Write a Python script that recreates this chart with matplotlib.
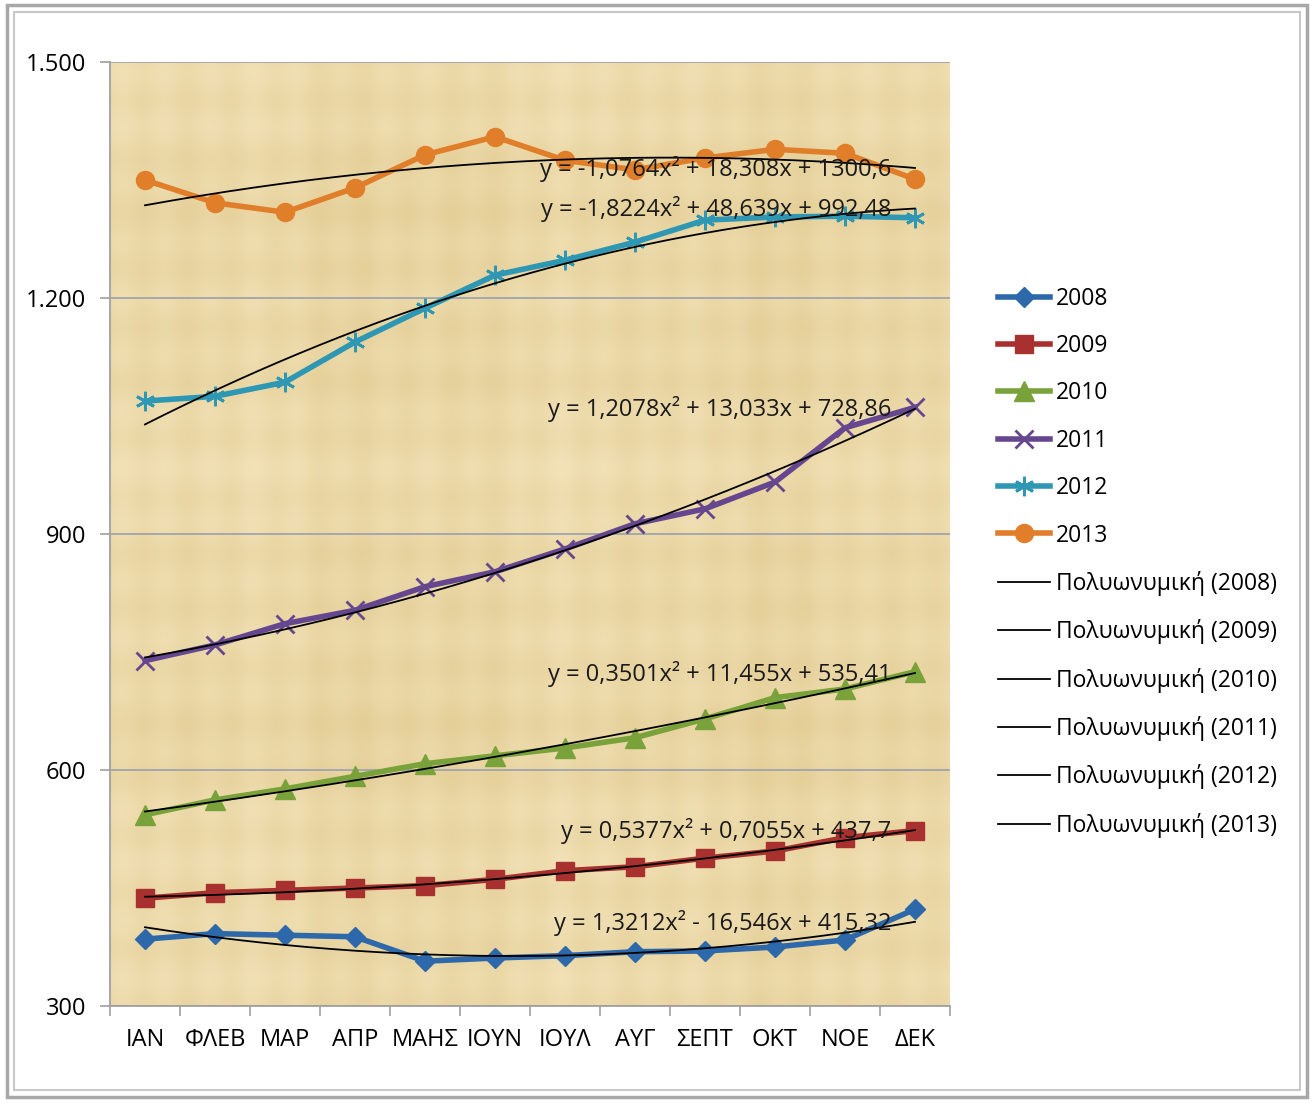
import numpy as np
import matplotlib
matplotlib.use('Agg')
import matplotlib.pyplot as plt
from matplotlib.patches import Rectangle

plt.rcParams['font.family'] = ['Open Sans', 'DejaVu Sans']

months = ['ΙΑΝ', 'ΦΛΕΒ', 'ΜΑΡ', 'ΑΠΡ', 'ΜΑΗΣ', 'ΙΟΥΝ',
          'ΙΟΥΛ', 'ΑΥΓ', 'ΣΕΠΤ', 'ΟΚΤ', 'ΝΟΕ', 'ΔΕΚ']
years = ['2008', '2009', '2010', '2011', '2012', '2013']

v2008 = [385, 392, 390, 388, 357, 361, 364, 369, 370, 375, 384, 423]
v2009 = [437, 444, 447, 450, 453, 461, 472, 477, 488, 497, 514, 523]
v2010 = [543, 562, 576, 592, 608, 618, 628, 641, 665, 692, 703, 725]
v2011 = [739, 759, 786, 803, 833, 852, 881, 913, 932, 966, 1035, 1061]
v2012 = [1069, 1075, 1093, 1144, 1187, 1229, 1248, 1271, 1299, 1303, 1304, 1302]
v2013 = [1350, 1321, 1309, 1340, 1382, 1405, 1375, 1363, 1378, 1389, 1384, 1351]
series = [v2008, v2009, v2010, v2011, v2012, v2013]

# polynomial trendline coefficients (a, b, c) -> a*x^2 + b*x + c, x = 1..12
trend = [(1.3212, -16.546, 415.32), (0.5377, 0.7055, 437.7),
         (0.3501, 11.455, 535.41), (1.2078, 13.033, 728.86),
         (-1.8224, 48.639, 992.48), (-1.0764, 18.308, 1300.6)]
eq_labels = ['y = 1,3212x² - 16,546x + 415,32',
             'y = 0,5377x² + 0,7055x + 437,7',
             'y = 0,3501x² + 11,455x + 535,41',
             'y = 1,2078x² + 13,033x + 728,86',
             'y = -1,8224x² + 48,639x + 992,48',
             'y = -1,0764x² + 18,308x + 1300,6']
eq_y = [405, 522, 722, 1059, 1313, 1364]

colors = ['#2C68AA', '#A8302F', '#79A23A', '#65468F', '#2D97B4', '#E07E2A']
markers = ['D', 's', '^', 'x', (6, 2, 0), 'o']
msizes = [10, 13, 14, 13, 14, 13]

fig = plt.figure(figsize=(13.14, 11.04), dpi=100)
ax = fig.add_axes([110/1314, 1-1006/1104, 840/1314, 944/1104])

# papyrus-like background (deterministic weave pattern)
gx = np.arange(840)
gy = np.arange(944)
vert = 0.5*np.sin(gx/7.0) + 0.3*np.sin(gx/23.0 + 1.0) + 0.4*np.sin(gx/61.0)
horz = 0.5*np.sin(gy/9.0 + 0.5) + 0.3*np.sin(gy/29.0) + 0.4*np.sin(gy/71.0 + 2.0)
shade = vert[None, :] * 0.5 + horz[:, None] * 0.5
shade = (shade - shade.min()) / (shade.max() - shade.min())
base = np.array([228, 206, 150]) / 255.0
light = np.array([242, 226, 184]) / 255.0
tex = base[None, None, :] + (light - base)[None, None, :] * shade[:, :, None]
ax.imshow(tex, extent=(0.5, 12.5, 300, 1500), aspect='auto', zorder=0,
          interpolation='bilinear')

x = np.arange(1, 13)
handles = []
for i, vals in enumerate(series):
    mew = 2 if markers[i] in ('x', (6, 2, 0)) else 1
    h, = ax.plot(x, vals, color=colors[i], lw=4, marker=markers[i],
                 markersize=msizes[i], markeredgewidth=mew, label=years[i],
                 zorder=3)
    handles.append(h)

xs = np.linspace(1, 12, 200)
for i, (a, b, c) in enumerate(trend):
    h, = ax.plot(xs, a*xs**2 + b*xs + c, color='black', lw=1.3,
                 label='Πολυωνυμική (%s)' % years[i], zorder=4)
    handles.append(h)
    ax.text(11.66, eq_y[i], eq_labels[i], ha='right', va='center',
            fontsize=17, color='#1a1a1a', zorder=5)

ax.set_xlim(0.5, 12.5)
ax.set_ylim(300, 1500)
ax.set_yticks([300, 600, 900, 1200, 1500])
ax.set_yticklabels(['300', '600', '900', '1.200', '1.500'])
ax.set_xticks(x)
ax.set_xticklabels(months)
ax.set_xticks(np.arange(0.5, 13, 1), minor=True)
ax.tick_params(axis='x', which='major', length=0, pad=16, labelsize=17)
ax.tick_params(axis='x', which='minor', length=7, color='#A0A0A0', width=1.2)
ax.tick_params(axis='y', length=7, color='#A0A0A0', width=1.2, labelsize=17, pad=10)
ax.grid(axis='y', color='#A0A4AC', lw=1.3, zorder=1)
ax.set_axisbelow(True)
for s in ['top', 'right']:
    ax.spines[s].set_visible(False)
for s in ['left', 'bottom']:
    ax.spines[s].set_color('#A0A0A0')
    ax.spines[s].set_linewidth(1.3)

leg = fig.legend(handles=handles, loc='upper left',
                 bbox_to_anchor=(977/1314, 1-266/1104), frameon=False,
                 fontsize=16.5, handlelength=2.3, labelspacing=1.02,
                 handletextpad=0.25)

# outer chart frame
fig.patches.append(Rectangle((7/1314, 7/1104), 1300/1314, 1092/1104,
                             transform=fig.transFigure, fill=False,
                             ec='#A8A8A8', lw=2.5))
fig.patches.append(Rectangle((14/1314, 14/1104), 1286/1314, 1078/1104,
                             transform=fig.transFigure, fill=False,
                             ec='#C8C8C8', lw=1.5))

fig.savefig('out.png', dpi=100)
